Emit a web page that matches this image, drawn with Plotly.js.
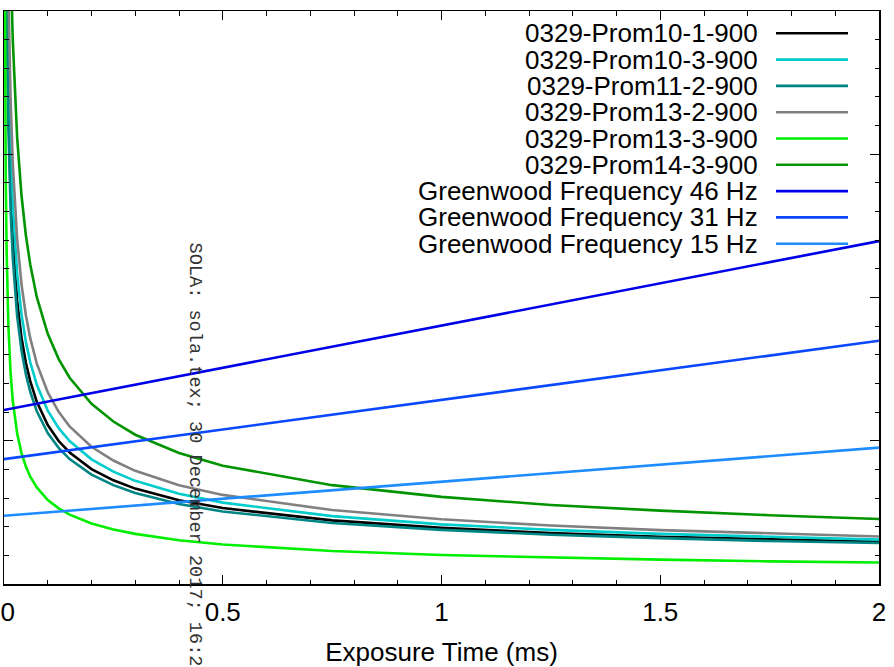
<!DOCTYPE html>
<html>
<head>
<meta charset="utf-8">
<script src="https://cdn.plot.ly/plotly-3.0.1.min.js"></script>
<style>html,body{margin:0;padding:0;background:#fff;}#chart{width:894px;height:667px;}</style>
</head>
<body>
<div id="chart"></div>
<script>
// Exposure time grids (ms)
const tCluster = [0.006,0.008,0.01,0.015,0.02,0.03,0.04,0.05,0.06,0.075,0.1,0.125,0.15,0.2,0.25,0.3,0.4,0.5,0.75,1,1.25,1.5,1.75,2];
const tLime = [0.0015,0.002,0.003,0.004,0.006,0.008,0.01,0.015,0.02,0.03,0.04,0.05,0.06,0.075,0.1,0.125,0.15,0.2,0.25,0.3,0.4,0.5,0.75,1,1.25,1.5,1.75,2];
const tDarkGreen = [0.015,0.02,0.03,0.04,0.05,0.06,0.075,0.1,0.125,0.15,0.2,0.25,0.3,0.4,0.5,0.75,1,1.25,1.5,1.75,2];
const tLine = [0,1,2];

// Series values
const prom10_1 = [21.73,18.86,16.90,13.85,12.04,9.88,8.60,7.72,7.08,6.36,5.55,4.99,4.59,4.01,3.62,3.33,2.92,2.65,2.22,1.96,1.78,1.65,1.55,1.47];
const prom10_3 = [23.93,20.75,18.59,15.22,13.22,10.84,9.42,8.45,7.74,6.95,6.05,5.44,4.99,4.35,3.92,3.60,3.15,2.84,2.37,2.08,1.89,1.75,1.64,1.55];
const prom11_2 = [20.52,17.82,15.97,13.10,11.39,9.36,8.15,7.32,6.71,6.03,5.27,4.75,4.36,3.82,3.45,3.18,2.79,2.53,2.13,1.89,1.72,1.60,1.50,1.43];
const prom13_2 = [26.68,23.13,20.71,16.95,14.71,12.05,10.46,9.38,8.58,7.69,6.69,6.01,5.50,4.79,4.31,3.95,3.45,3.11,2.58,2.26,2.04,1.88,1.76,1.66];
const prom13_3 = [23.10,20.02,16.37,14.19,11.61,10.07,9.02,7.39,6.41,5.26,4.57,4.10,3.75,3.37,2.93,2.64,2.42,2.11,1.90,1.75,1.53,1.38,1.15,1.01,0.92,0.85,0.79,0.75];
const prom14_3 = [21.88,19.01,15.60,13.56,12.17,11.15,10.01,8.73,7.85,7.20,6.29,5.67,5.21,4.57,4.13,3.45,3.04,2.76,2.56,2.40,2.27];
const gw46 = [6.07,9.02,11.97];
const gw31 = [4.36,6.42,8.49];
const gw15 = [2.38,3.57,4.76];

const names = ["0329-Prom10-1-900","0329-Prom10-3-900","0329-Prom11-2-900","0329-Prom13-2-900","0329-Prom13-3-900","0329-Prom14-3-900","Greenwood Frequency 46 Hz","Greenwood Frequency 31 Hz","Greenwood Frequency 15 Hz"];
const colors = ["#000000","#00cccc","#008585","#808080","#00ee00","#009400","#0000e8","#0a48ff","#1e8cff"];
const xs = [tCluster,tCluster,tCluster,tCluster,tLime,tDarkGreen,tLine,tLine,tLine];
const ys = [prom10_1,prom10_3,prom11_2,prom13_2,prom13_3,prom14_3,gw46,gw31,gw15];

const xTickVals = [0,0.5,1,1.5,2];
const xTickText = ["\u00a00","0.5","1","1.5","2"];

const traces = names.map((n,i)=>({
  x: xs[i], y: ys[i], name: n, type: 'scatter', mode: 'lines',
  line: {color: colors[i], width: 2.6}, hoverinfo: 'skip'
}));

const font = "'Liberation Sans', Arial, sans-serif";
const annotations = [];
const shapes = [];
const rowTop = 33.3, rowStep = 26.3, plotTop = 11, plotH = 573, plotL = 4, plotW = 875;
names.forEach((n,i)=>{
  const py = rowTop + rowStep*i;
  const yp = 1 - (py - plotTop)/plotH;
  annotations.push({xref:'paper', yref:'paper', x:(760-plotL)/plotW, y:yp, xanchor:'right', yanchor:'middle',
    text:n, showarrow:false, font:{family:font, size:26, color:'#000'}});
  shapes.push({type:'line', xref:'paper', yref:'paper', x0:(776-plotL)/plotW, x1:(848-plotL)/plotW, y0:yp, y1:yp,
    line:{color:colors[i], width:2.6}});
});
annotations.push({xref:'paper', yref:'paper', x:(194-plotL)/plotW, y:1-(240-plotTop)/plotH, xanchor:'center', yanchor:'top',
  textangle:90, text:'SOLA: sola.tex; 30 December 2017; 16:24', showarrow:false,
  font:{family:"'Liberation Mono', 'DejaVu Sans Mono', monospace", size:18.6, color:'#333'}});

const layout = {
  width: 894, height: 667,
  margin: {l:4, r:15, t:11, b:83, pad:0},
  paper_bgcolor:'#fff', plot_bgcolor:'#fff',
  showlegend:false,
  xaxis: {
    range:[0,2], tickmode:'array', tickvals:xTickVals, ticktext:xTickText,
    ticks:'inside', ticklen:9, tickwidth:1, tickcolor:'#000',
    showline:true, linecolor:'#000', linewidth:1.5, mirror:'ticks',
    showgrid:false, zeroline:false, ticklabeloverflow:'allow', ticklabelstandoff:4,
    minor:{dtick:0.1, ticks:'inside', ticklen:4.5, tickwidth:1, tickcolor:'#000'},
    tickfont:{family:font, size:26, color:'#000'},
    title:{text:'Exposure Time (ms)', font:{family:font, size:26, color:'#000'}, standoff:20}
  },
  yaxis: {
    range:[0,20], dtick:5, tick0:0,
    ticks:'inside', ticklen:9, tickwidth:1, tickcolor:'#000',
    showline:true, linecolor:'#000', linewidth:1.5, mirror:'ticks',
    showgrid:false, zeroline:false, showticklabels:false,
    minor:{dtick:1, ticks:'inside', ticklen:4.5, tickwidth:1, tickcolor:'#000'}
  },
  annotations: annotations,
  shapes: shapes
};

Plotly.newPlot('chart', traces, layout, {staticPlot:true, displayModeBar:false});
</script>
</body>
</html>
